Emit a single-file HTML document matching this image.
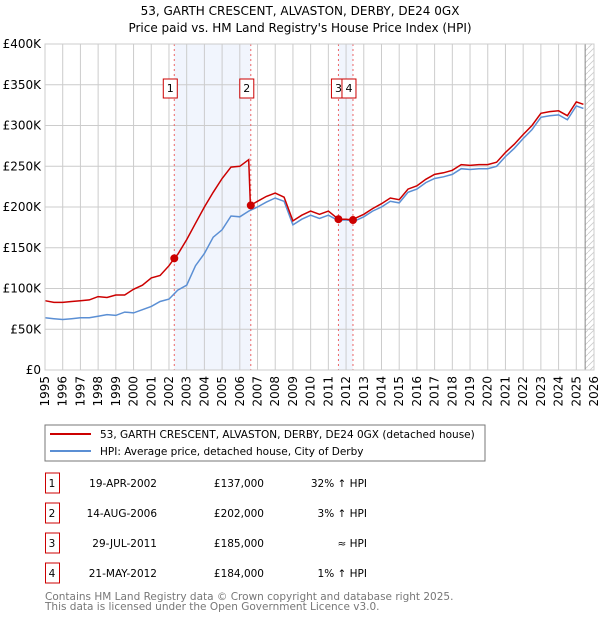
<!DOCTYPE html>
<html><head><meta charset="utf-8"><style>
body{margin:0;background:#fff;font-family:"DejaVu Sans","Liberation Sans",sans-serif;}
svg text{font-family:"DejaVu Sans","Liberation Sans",sans-serif;}
</style></head><body>
<svg id="chart" width="600" height="620" viewBox="0 0 600 620">
<text x="300" y="15" text-anchor="middle" font-size="12" fill="#000">53, GARTH CRESCENT, ALVASTON, DERBY, DE24 0GX</text>
<text x="300" y="32" text-anchor="middle" font-size="12" fill="#000">Price paid vs. HM Land Registry's House Price Index (HPI)</text>
<g id="plot"></g>
<rect x="45" y="425" width="440" height="36" fill="#fff" stroke="#777"/>
<line x1="50" y1="434" x2="91" y2="434" stroke="#cc0000" stroke-width="2"/>
<text x="100" y="438" font-size="10.5">53, GARTH CRESCENT, ALVASTON, DERBY, DE24 0GX (detached house)</text>
<line x1="50" y1="451" x2="91" y2="451" stroke="#5b8fd4" stroke-width="2"/>
<text x="100" y="455" font-size="10.5">HPI: Average price, detached house, City of Derby</text>
<g id="table" font-size="10.5"></g>
<text x="45" y="600" font-size="10.5" fill="#777">Contains HM Land Registry data © Crown copyright and database right 2025.</text>
<text x="45" y="610" font-size="10.5" fill="#777">This data is licensed under the Open Government Licence v3.0.</text>
</svg>
<script>
const years=[1995,1995.5,1996,1996.5,1997,1997.5,1998,1998.5,1999,1999.5,2000,2000.5,2001,2001.5,2002,2002.5,2003,2003.5,2004,2004.5,2005,2005.5,2006,2006.5,2007,2007.5,2008,2008.5,2009,2009.5,2010,2010.5,2011,2011.5,2012,2012.5,2013,2013.5,2014,2014.5,2015,2015.5,2016,2016.5,2017,2017.5,2018,2018.5,2019,2019.5,2020,2020.5,2021,2021.5,2022,2022.5,2023,2023.5,2024,2024.5,2025,2025.4];
const hpiValues=[64,63,62,63,64,64,66,68,67,71,70,74,78,84,87,98,104,128,143,163,172,189,188,195,200,206,211,207,178,185,190,186,190,184,184,183,188,195,200,207,205,218,222,230,235,237,240,247,246,247,247,250,262,272,284,295,310,312,313,307,324,321];
const priceYears=[1995,1995.5,1996,1996.5,1997,1997.5,1998,1998.5,1999,1999.5,2000,2000.5,2001,2001.5,2002,2002.3,2002.5,2003,2003.5,2004,2004.5,2005,2005.5,2006,2006.5,2006.6,2007,2007.5,2008,2008.5,2009,2009.5,2010,2010.5,2011,2011.57,2012,2012.39,2012.5,2013,2013.5,2014,2014.5,2015,2015.5,2016,2016.5,2017,2017.5,2018,2018.5,2019,2019.5,2020,2020.5,2021,2021.5,2022,2022.5,2023,2023.5,2024,2024.5,2025,2025.4];
const priceValues=[85,83,83,84,85,86,90,89,92,92,99,104,113,116,128,137,142,160,180,200,218,235,249,250,258,202,207,213,217,212,183,190,195,191,195,185,185,184,186,191,198,204,211,209,222,226,234,240,242,245,252,251,252,252,255,267,277,289,300,315,317,318,312,329,326];
const saleLabels=["1","2","3","4"];
const saleYears=[2002.3,2006.62,2011.57,2012.39];
const saleValues=[137,202,185,184];
const saleDates=["19-APR-2002","14-AUG-2006","29-JUL-2011","21-MAY-2012"];
const salePrices=["£137,000","£202,000","£185,000","£184,000"];
const saleHpi=["32% ↑ HPI","3% ↑ HPI","≈ HPI","1% ↑ HPI"];
const yTicks=[0,50,100,150,200,250,300,350,400];
const yTickLabels=["£0","£50K","£100K","£150K","£200K","£250K","£300K","£350K","£400K"];
const xTicks=[1995,1996,1997,1998,1999,2000,2001,2002,2003,2004,2005,2006,2007,2008,2009,2010,2011,2012,2013,2014,2015,2016,2017,2018,2019,2020,2021,2022,2023,2024,2025,2026];

const NS="http://www.w3.org/2000/svg";
const X0=45,X1=594,Y0=370,Y1=44;
const xs=y=>X0+(y-1995)/(2026-1995)*(X1-X0);
const ys=v=>Y0-v/400*(Y0-Y1);
const plot=document.getElementById('plot');
function mk(tag,attrs,parent){const e=document.createElementNS(NS,tag);for(const k in attrs)e.setAttribute(k,attrs[k]);(parent||plot).appendChild(e);return e;}

let s=mk('rect',{x:xs(saleYears[0]),y:Y1,width:xs(saleYears[1])-xs(saleYears[0]),height:Y0-Y1,fill:'#eef3fc',opacity:0.8});


s=mk('rect',{x:xs(saleYears[2]),y:Y1,width:xs(saleYears[3])-xs(saleYears[2]),height:Y0-Y1,fill:'#eef3fc',opacity:0.8});


const defs=mk('defs',{});
const pat=mk('pattern',{id:'hatch',width:6,height:6,patternUnits:'userSpaceOnUse'},defs);
mk('path',{d:'M0,6 L6,0',stroke:'#ccc','stroke-width':0.8},pat);
const fx=xs(2025.5);
s=mk('rect',{x:fx,y:Y1,width:X1-fx,height:Y0-Y1,fill:'url(#hatch)'});


yTicks.forEach((t,i)=>{
  const g=mk('line',{x1:X0,x2:X1,y1:ys(t),y2:ys(t),stroke:'#ccc','stroke-width':1});
  
  
  const l=mk('text',{x:X0-4,y:ys(t)+4,'text-anchor':'end','font-size':12});
  l.textContent=yTickLabels[i];
  
  
});
xTicks.forEach(t=>{
  const g=mk('line',{x1:xs(t),x2:xs(t),y1:Y1,y2:Y0,stroke:'#ccc','stroke-width':1});
  
  
  const l=mk('text',{x:0,y:0,'text-anchor':'end','font-size':12,transform:`translate(${xs(t)+4},${Y0+6}) rotate(-90)`});
  l.textContent=t;
  
  
});
s=mk('line',{x1:fx,x2:fx,y1:Y1,y2:Y0,stroke:'#888','stroke-width':1});


saleYears.forEach((y,i)=>{
  const l=mk('line',{x1:xs(y),x2:xs(y),y1:Y1,y2:Y0,stroke:'#e66','stroke-width':1,'stroke-dasharray':'2,3'});
  
  
});
let d=years.map((y,i)=>(i?'L':'M')+xs(y).toFixed(1)+','+ys(hpiValues[i]).toFixed(1)).join(' ');
s=mk('path',{d:d,fill:'none',stroke:'#5b8fd4','stroke-width':1.5});


d=priceYears.map((y,i)=>(i?'L':'M')+xs(y).toFixed(1)+','+ys(priceValues[i]).toFixed(1)).join(' ');
s=mk('path',{d:d,fill:'none',stroke:'#cc0000','stroke-width':1.5});


const boxOff=[-4,-4,0,-4];
saleYears.forEach((y,i)=>{
  const c=mk('circle',{cx:xs(y),cy:ys(saleValues[i]),r:4,fill:'#cc0000'});
  
  
  const bx=xs(y)+boxOff[i]-7;
  const r=mk('rect',{x:bx,y:79,width:14,height:19,fill:'#fff',stroke:'#cc0000'});
  
  
  const t=mk('text',{x:bx+7,y:92,'text-anchor':'middle','font-size':11});
  t.textContent=saleLabels[i];
  
  
});
mk('rect',{x:X0,y:Y1,width:X1-X0,height:Y0-Y1,fill:'none',stroke:'#ccc'});
const tbl=document.getElementById('table');
saleLabels.forEach((lab,i)=>{
  const cy=483+i*30;
  const r=mk('rect',{x:45.5,y:cy-10,width:14,height:20,fill:'#fff',stroke:'#cc0000'},tbl);
  
  
  const vals=[[52,'middle',lab,'table-index'],[157,'end',saleDates[i],'table-date'],[264,'end',salePrices[i],'table-price'],[367,'end',saleHpi[i],'table-hpi-diff']];
  vals.forEach(v=>{
    const t=mk('text',{x:v[0],y:cy+4,'text-anchor':v[1]},tbl);
    t.textContent=v[2];
    
    
  });
});
</script>
</body></html>
